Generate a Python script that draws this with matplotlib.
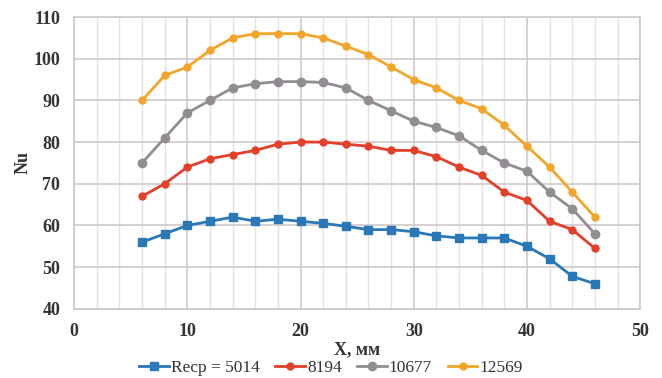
import matplotlib
matplotlib.use("Agg")
import matplotlib.pyplot as plt
from matplotlib.ticker import MultipleLocator

x = [6, 8, 10, 12, 14, 16, 18, 20, 22, 24, 26, 28, 30, 32, 34, 36, 38, 40, 42, 44, 46]
nu_5014 = [56, 58, 60, 61, 62, 61, 61.5, 61, 60.5, 59.8, 59, 59, 58.5, 57.5, 57, 57, 57, 55, 52, 47.8, 46]
nu_8194 = [67, 70, 74, 76, 77, 78, 79.5, 80, 80, 79.5, 79, 78, 78, 76.5, 74, 72, 68, 66, 61, 59, 54.5]
nu_10677 = [75, 81, 87, 90, 93, 94, 94.5, 94.5, 94.3, 93, 90, 87.5, 85, 83.5, 81.5, 78, 75, 73, 68, 64, 58]
nu_12569 = [90, 96, 98, 102, 105, 106, 106, 106, 105, 103, 101, 98, 95, 93, 90, 88, 84, 79, 74, 68, 62]
labels = ["Recp = 5014", "8194", "10677", "12569"]
xticks = [0, 10, 20, 30, 40, 50]
yticks = [40, 50, 60, 70, 80, 90, 100, 110]

plt.rcParams['font.family'] = ['Liberation Serif', 'DejaVu Serif']

fig = plt.figure(figsize=(6.62, 3.78), dpi=100)
ax = fig.add_axes([0.112, 0.183, 0.855, 0.772])

series = [nu_5014, nu_8194, nu_10677, nu_12569]
colors = ['#2A78B8', '#E2402A', '#928D93', '#F2A52B']
markers = ['s', 'o', 'o', 'o']
msizes = [5.5, 5, 6, 5]
for s, c, m, ms, lab in zip(series, colors, markers, msizes, labels):
    ax.plot(x, s, color=c, marker=m, markersize=ms, linewidth=2, label=lab)

ax.set_xlim(0, 50)
ax.set_ylim(40, 110)
ax.set_xticks(xticks)
ax.set_yticks(yticks)
ax.xaxis.set_minor_locator(MultipleLocator(2))
ax.grid(which='major', color='#CFC8C8', linewidth=1.2)
ax.grid(which='minor', axis='x', color='#E6E2E2', linewidth=1.0)
ax.set_axisbelow(True)
for sp in ax.spines.values():
    sp.set_color('#CFC8C8')
    sp.set_linewidth(1.2)
ax.tick_params(which='both', length=0, labelsize=13, colors='#333333')
ax.tick_params(axis='x', pad=10)
ax.tick_params(axis='y', pad=10)
for lbl in ax.get_xticklabels() + ax.get_yticklabels():
    lbl.set_fontweight('bold')

ax.set_xlabel('X, мм', fontsize=13, fontweight='bold', color='#333333', labelpad=1)
ax.set_ylabel('Nu', fontsize=13, fontweight='bold', color='#333333', labelpad=1)

fig.legend(loc='lower center', bbox_to_anchor=(0.5, -0.035), ncol=4, frameon=False,
           fontsize=12.5, handlelength=1.7, handletextpad=0.12, columnspacing=0.9,
           labelcolor='#333333')

fig.savefig('out.png', dpi=100)
